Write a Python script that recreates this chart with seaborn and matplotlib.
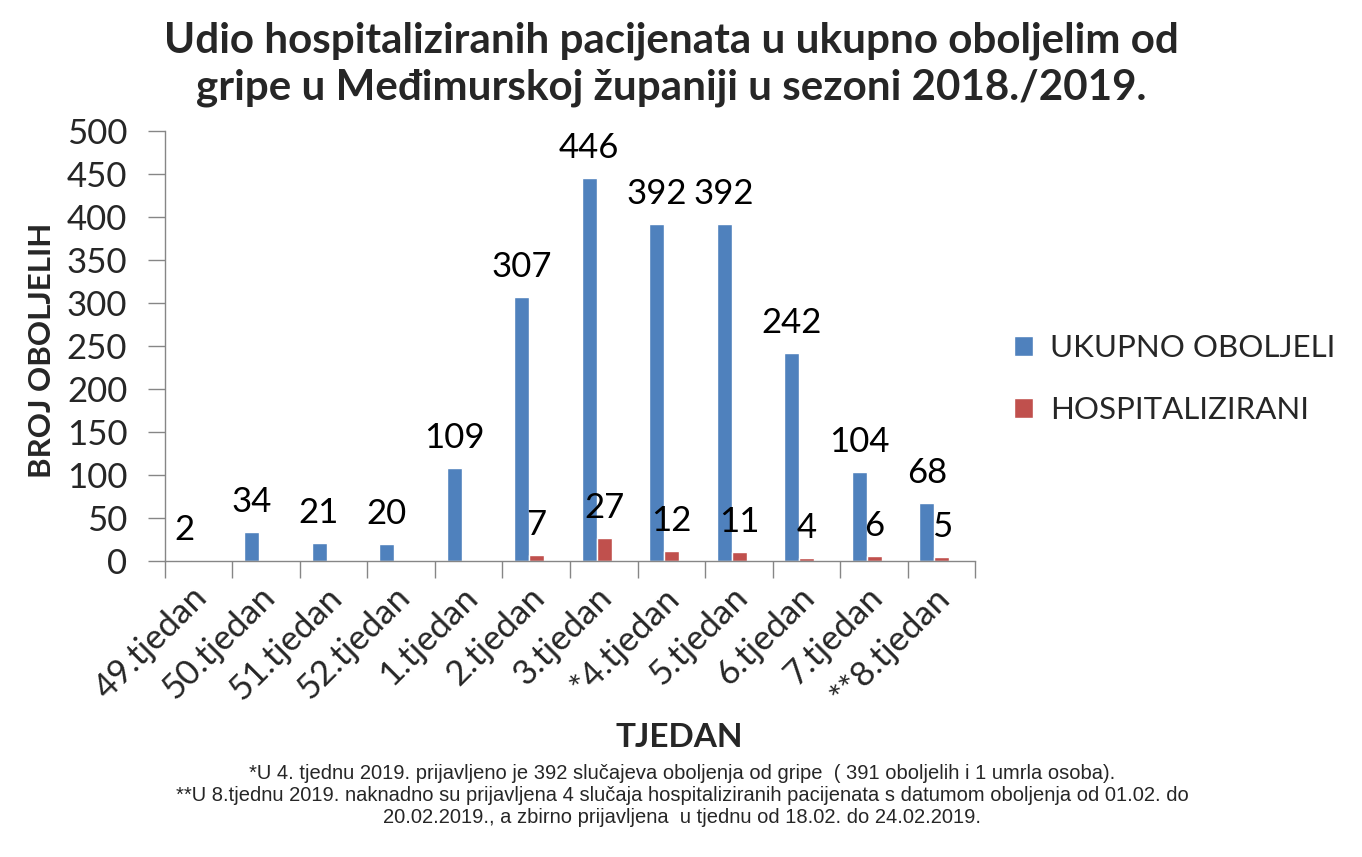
import matplotlib
matplotlib.use("Agg")
import matplotlib.pyplot as plt
from matplotlib.transforms import ScaledTranslation
import seaborn as sns
import pandas as pd
import numpy as np

weeks = ["49.tjedan", "50.tjedan", "51.tjedan", "52.tjedan", "1.tjedan", "2.tjedan",
         "3.tjedan", "*4.tjedan", "5.tjedan", "6.tjedan", "7.tjedan", "**8.tjedan"]
ukupno = [2, 34, 21, 20, 109, 307, 446, 392, 392, 242, 104, 68]
hosp = [0, 0, 0, 0, 0, 7, 27, 12, 11, 4, 6, 5]
series = ["UKUPNO OBOLJELI", "HOSPITALIZIRANI"]
colors = ["#4F81BD", "#C0504D"]

df = pd.DataFrame({
    "tjedan": weeks * 2,
    "vrijednost": ukupno + hosp,
    "serija": [series[0]] * len(weeks) + [series[1]] * len(weeks),
})

sns.set_theme(style="white")
plt.rcParams['font.family'] = ['Lato', 'DejaVu Sans']

fig = plt.figure(figsize=(13.62, 8.57), dpi=100)
ax = fig.add_axes([0.121, 0.345, 0.595, 0.502])

sns.barplot(data=df, x="tjedan", y="vrijednost", hue="serija", palette=colors,
            width=0.445, dodge=True, ax=ax, saturation=1, legend=True)

# Excel-like slight left offset of the bar cluster inside each category
for cont in ax.containers:
    for p in cont:
        p.set_x(p.get_x() - 0.105)

for cont, vals in zip(ax.containers, [ukupno, hosp]):
    labels = [str(v) if v != 0 else "" for v in vals]
    ax.bar_label(cont, labels=labels, padding=10, fontsize=25, color="black")

ax.set_ylim(0, 500)
ax.set_yticks(range(0, 501, 50))
ax.set_xlim(-0.5, len(weeks) - 0.5)
ax.tick_params(axis='y', labelsize=25, length=12, width=1, color="#868686", left=True, pad=15)
ax.set_xticks(range(len(weeks)))
ax.set_xticklabels(weeks, rotation=45, ha='right', rotation_mode='anchor', fontsize=25)
ax.tick_params(axis='x', which='major', length=0, pad=12)
ax.set_xticks(np.arange(-0.5, len(weeks), 1), minor=True)
ax.tick_params(axis='x', which='minor', length=12, width=1, color="#868686", bottom=True)
off = ScaledTranslation(-8 / 100, -3 / 100, fig.dpi_scale_trans)
for lab in ax.get_xticklabels():
    lab.set_transform(lab.get_transform() + off)

for s in ["top", "right"]:
    ax.spines[s].set_visible(False)
for s in ["left", "bottom"]:
    ax.spines[s].set_color("#868686")
    ax.spines[s].set_linewidth(1)

ax.set_ylabel("BROJ OBOLJELIH", fontsize=22.5, fontweight="bold")
ax.yaxis.set_label_coords(-0.134, 0.49)
ax.set_xlabel("")
fig.text(0.499, 0.139, "TJEDAN", ha="center", va="center", fontsize=24, fontweight="bold")

leg = ax.legend(loc="center left", bbox_to_anchor=(0.7445, 0.5578), bbox_transform=fig.transFigure,
                frameon=False, fontsize=22.5, handlelength=0.6, handleheight=0.6,
                labelspacing=1.1, handletextpad=0.55, borderpad=0, borderaxespad=0)

fig.text(0.493, 0.925, "Udio hospitaliziranih pacijenata u ukupno oboljelim od\ngripe u Međimurskoj županiji u sezoni 2018./2019.",
         ha="center", va="center", fontsize=30.3, fontweight="bold", linespacing=1.3)

fig.text(0.501, 0.072,
         "*U 4. tjednu 2019. prijavljeno je 392 slučajeva oboljenja od gripe  ( 391 oboljelih i 1 umrla osoba).\n"
         "**U 8.tjednu 2019. naknadno su prijavljena 4 slučaja hospitaliziranih pacijenata s datumom oboljenja od 01.02. do\n"
         "20.02.2019., a zbirno prijavljena  u tjednu od 18.02. do 24.02.2019.",
         ha="center", va="center", fontsize=14.5, linespacing=1.2,
         family=["Liberation Sans Narrow", "Liberation Sans", "DejaVu Sans"])

fig.savefig("out.png", dpi=100)
